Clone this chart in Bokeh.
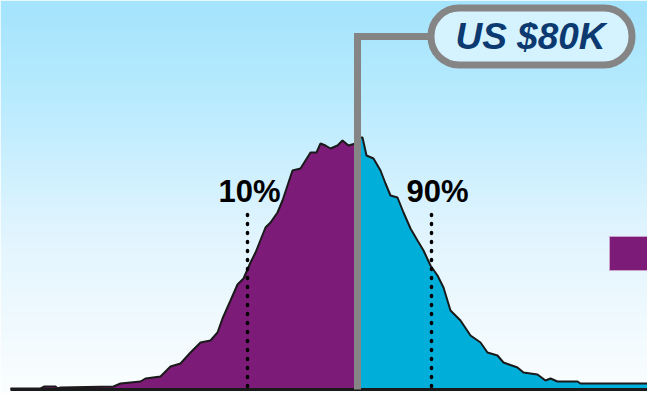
import numpy as np
from bokeh.plotting import figure
from bokeh.core.properties import value
from bokeh.embed import file_html
from bokeh.resources import INLINE

# ---- data (income in US$ thousands, share of households per bin, arbitrary units) ----
low_income = [10.6, 16.6, 17.4, 19.6, 20.0, 20.6, 31.2, 32.6, 36.6, 37.6, 40.6, 42.6, 44.6, 46.6,
              48.6, 50.6, 52.0, 53.0, 54.6, 56.0, 57.2, 58.6, 59.6, 61.6, 62.6, 64.0, 65.0, 66.0,
              67.0, 68.6, 69.6, 70.6, 71.8, 72.6, 73.6, 74.6, 76.0, 77.0, 78.2, 79.6, 80.0]
low_share = [0.1, 0.1, 0.3, 0.3, 0.1, 0.2, 0.3, 0.6, 0.8, 1.1, 1.3, 2.3, 2.6, 3.7,
             4.7, 4.9, 5.7, 7.1, 8.9, 10.5, 11.1, 12.7, 13.7, 16.2, 16.7, 17.7, 18.9, 20.4,
             21.9, 22.1, 22.9, 23.7, 23.7, 24.6, 24.4, 24.1, 24.4, 24.9, 24.4, 24.6, 24.6]
high_income = [80.0, 81.0, 81.8, 83.2, 84.6, 85.6, 86.6, 88.0, 89.2, 90.6, 92.0, 93.2, 94.6, 96.0,
               97.2, 98.6, 100.6, 102.6, 104.6, 106.0, 108.0, 109.2, 112.0, 113.2, 116.0, 117.6,
               118.6, 120.0, 124.0, 124.6, 140.0]
high_share = [25.2, 25.2, 23.4, 23.1, 21.9, 20.6, 19.4, 19.2, 17.7, 16.1, 14.9, 13.9, 12.4, 11.4,
              10.2, 7.9, 6.9, 5.4, 4.7, 3.7, 3.4, 2.7, 2.2, 1.7, 1.5, 0.9,
              1.1, 0.8, 0.8, 0.6, 0.6]
median_income = 80.0
median_label = "US $80K"
pct_values = [58.0, 94.8]
pct_labels = ["10%", "90%"]
pct_line_top = 17.8

PURPLE = "#7D1B78"
CYAN = "#00AEDA"
GRAY = "#858585"

X0, X1 = 8.6, 138.0
Y0, Y1 = -0.4, 38.9

p = figure(width=647, height=393, x_range=(X0, X1), y_range=(Y0, Y1),
           min_border=0, toolbar_location=None, output_backend="svg")
p.axis.visible = False
p.grid.visible = False
p.outline_line_color = None
p.background_fill_color = "white"
p.border_fill_color = "white"

# background vertical gradient
stops_pos = np.array([0.0, 0.25, 0.6, 1.0])  # from top
stops_col = np.array([[0xA4, 0xE4, 0xFD], [0xB9, 0xEB, 0xFE], [0xE2, 0xF5, 0xFE], [0xFB, 0xFE, 0xFF]])
n = 200
t = np.linspace(0, 1, n)
rgb = np.stack([np.interp(t, stops_pos, stops_col[:, k]) for k in range(3)], axis=1).astype(np.uint8)
rgb = rgb[::-1]  # image rows start at bottom
img = np.empty((n, 1), dtype=np.uint32)
view = img.view(dtype=np.uint8).reshape((n, 1, 4))
view[:, 0, 0] = rgb[:, 0]
view[:, 0, 1] = rgb[:, 1]
view[:, 0, 2] = rgb[:, 2]
view[:, 0, 3] = 255
p.image_rgba(image=[img], x=X0, y=Y0, dw=X1 - X0, dh=Y1 - Y0)

# distribution fills
p.varea(x=low_income, y1=[0] * len(low_income), y2=low_share, fill_color=PURPLE)
p.varea(x=high_income, y1=[0] * len(high_income), y2=high_share, fill_color=CYAN)

# outline
p.line(x=low_income + high_income, y=low_share + high_share, line_color="#1a1a1a", line_width=2)
p.line(x=[low_income[0], high_income[-1]], y=[0, 0], line_color="#1a1a1a", line_width=3)

# percentile dotted lines and labels
for v, lab, off in zip(pct_values, pct_labels, [2, 6]):
    p.line(x=[v, v], y=[0.3, pct_line_top], line_color="black", line_width=3.5,
           line_dash="1 8", line_cap="round")
    p.text(x=[v], y=[19.8], text=[lab], x_offset=off, text_align="center", text_baseline="middle",
           text_font=value("Liberation Sans"), text_font_style="bold", text_font_size="31px",
           text_color="black")

# legend swatch (clipped at right edge)
p.quad(left=[130.4], right=[140.0], bottom=[11.9], top=[15.3], fill_color=PURPLE,
       line_color="#C9A3C8", line_width=1)

# median marker with callout
call_x, call_y = 114.8, 35.3
p.line(x=[median_income, median_income, call_x - 20.1], y=[0, call_y, call_y],
       line_color=GRAY, line_width=7, line_join="miter")
p.rect(x=[call_x], y=[call_y], width=40.2, height=5.7, fill_color="#D5F3FE",
       line_color=GRAY, line_width=7, border_radius=28)
p.text(x=[call_x], y=[call_y], text=[median_label], x_offset=-1, text_align="center",
       text_baseline="middle", text_font=value("Liberation Sans"), text_font_style="bold italic",
       text_font_size="37px", text_color="#0C3A70")

open("out.html", "w").write(file_html(p, INLINE))
